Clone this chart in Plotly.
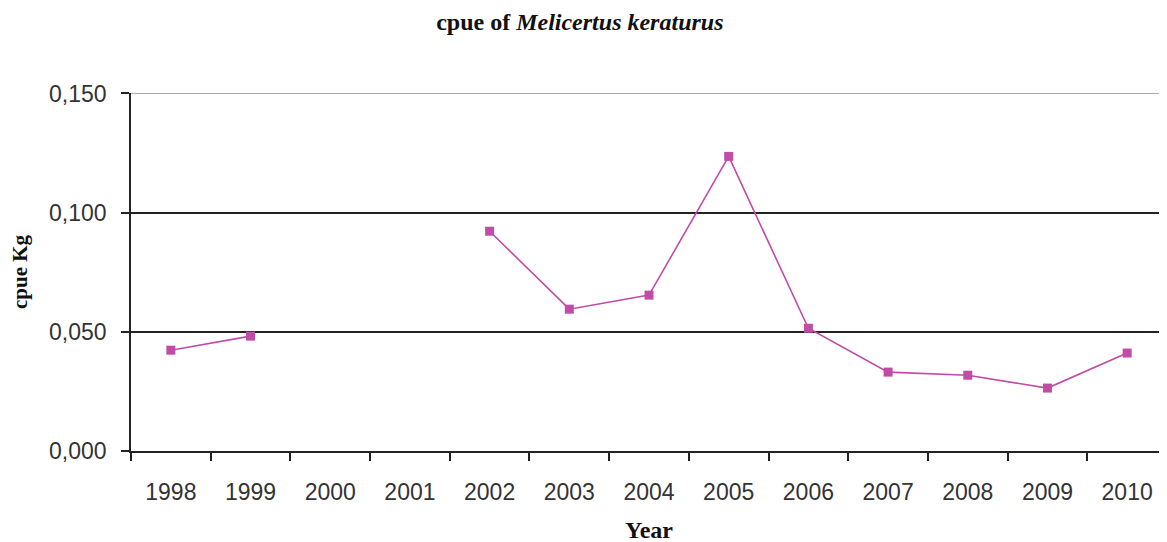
import plotly.graph_objects as go

years = ['1998', '1999', '2000', '2001', '2002', '2003', '2004',
         '2005', '2006', '2007', '2008', '2009', '2010']
cpue = [0.0423, 0.0482, None, None, 0.0922, 0.0595, 0.0654,
        0.1236, 0.0515, 0.0331, 0.0318, 0.0264, 0.0411]
yticks = [0.0, 0.05, 0.10, 0.15]

serif = "Liberation Serif, Times New Roman, serif"
sans = "Liberation Sans, Arial, sans-serif"

fig = go.Figure()
fig.add_trace(go.Scatter(
    x=years, y=cpue,
    mode='lines+markers',
    connectgaps=False,
    line=dict(color='#c04ca6', width=1.6),
    marker=dict(symbol='square', size=9, color='#c04ca6'),
    name='cpue'))

# top gridline (0,150) is drawn lighter in the original
fig.add_shape(type='line', xref='paper', x0=0, x1=1, yref='y',
              y0=yticks[-1], y1=yticks[-1],
              line=dict(color='#aaaaaa', width=1.2), layer='below')

# page body adds 8px, margins account for it
fig.update_layout(
    width=1167, height=542,
    margin=dict(l=123, r=8, t=85, b=99),
    paper_bgcolor='white', plot_bgcolor='white',
    showlegend=False,
    separators=',.',
    title=dict(text="<b>cpue of <i>Melicertus keraturus</i></b>",
               x=0.49, xanchor='center', y=0.974, yanchor='middle',
               font=dict(family=serif, size=24, color='#111')),
    xaxis=dict(
        type='category',
        range=[-0.5, 12.5],
        tickson='boundaries',
        ticks='outside', ticklen=8, tickcolor='#222', tickwidth=1.5,
        showline=True, linecolor='#222', linewidth=1.5,
        showgrid=False,
        tickfont=dict(family=sans, size=23, color='#333'),
        ticklabelstandoff=20,
        title=dict(text="<b>Year</b>", standoff=17,
                   font=dict(family=serif, size=24, color='#111'))),
    yaxis=dict(
        range=[0, 0.1502],
        tickvals=yticks, tickformat='.3f',
        ticks='outside', ticklen=8, tickcolor='#222', tickwidth=1.5,
        showline=True, linecolor='#222', linewidth=1.5,
        showgrid=True, gridcolor='#222', gridwidth=1.8,
        zeroline=False,
        tickfont=dict(family=sans, size=23, color='#333'),
        ticklabelstandoff=10,
        title=dict(text="<b>cpue Kg</b>", standoff=17,
                   font=dict(family=serif, size=21, color='#111'))),
)

fig.write_html("out.html")
